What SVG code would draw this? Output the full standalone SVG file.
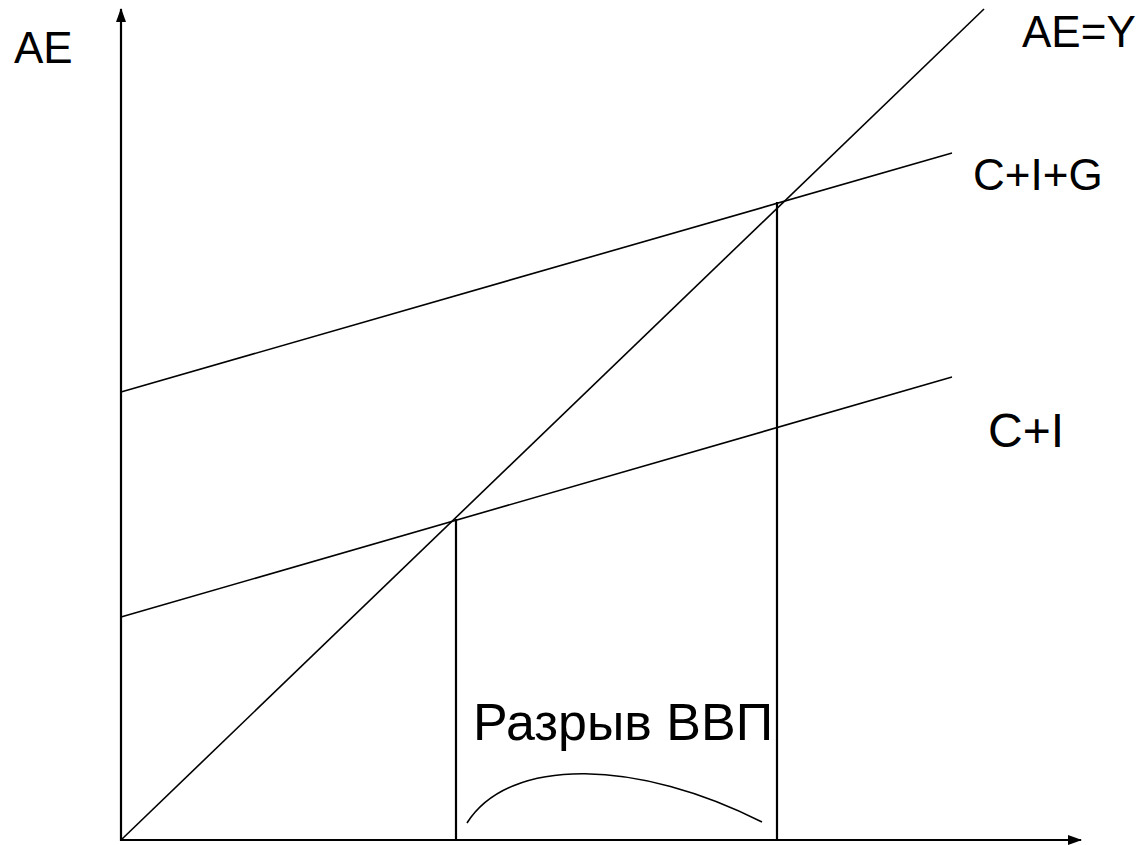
<svg xmlns="http://www.w3.org/2000/svg" width="1145" height="845" viewBox="0 0 1145 845">
<defs>
<marker id="arr" viewBox="0 0 14 10" refX="13" refY="5" markerWidth="14" markerHeight="10" markerUnits="userSpaceOnUse" orient="auto">
<path d="M0,0 L14,5 L0,10 z" fill="#000"/>
</marker>
</defs>
<style>
.ln{stroke:#000;stroke-width:1.6;fill:none}
.ax{stroke:#000;stroke-width:2.2;fill:none}
.t{font-family:"Liberation Sans",Arial,sans-serif;fill:#000}
</style>
<rect width="1145" height="845" fill="#fff"/>
<g id="connectors">
<line id="y-axis" class="ax" x1="121" y1="841" x2="121" y2="9" marker-end="url(#arr)"/>
<line id="x-axis" class="ax" x1="120" y1="840" x2="1081" y2="840" marker-end="url(#arr)"/>
<line id="ae-y" class="ln" x1="121" y1="840" x2="984" y2="9"/>
<line id="cig" class="ln" x1="121" y1="392" x2="952" y2="153"/>
<line id="ci" class="ln" x1="121" y1="617" x2="952" y2="377"/>
<line id="v1" class="ax" x1="456" y1="519" x2="456" y2="840"/>
<line id="v2" class="ax" x1="777" y1="202" x2="777" y2="840"/>
<path id="gap-arc" class="ln" d="M467,823 C510,755 640,760 762,822"/>
</g>
<g id="label-ae"><text class="t" x="14" y="63" font-size="44">AE</text></g>
<g id="label-aey"><text class="t" x="1022" y="47" font-size="44">AE=Y</text></g>
<g id="label-cig"><text class="t" x="973" y="190" font-size="44">C+I+G</text></g>
<g id="label-ci"><text class="t" x="988" y="447" font-size="48">C+I</text></g>
<g id="label-gap"><text class="t" x="473" y="740" font-size="52" textLength="300" lengthAdjust="spacingAndGlyphs">Разрыв ВВП</text></g>
</svg>
